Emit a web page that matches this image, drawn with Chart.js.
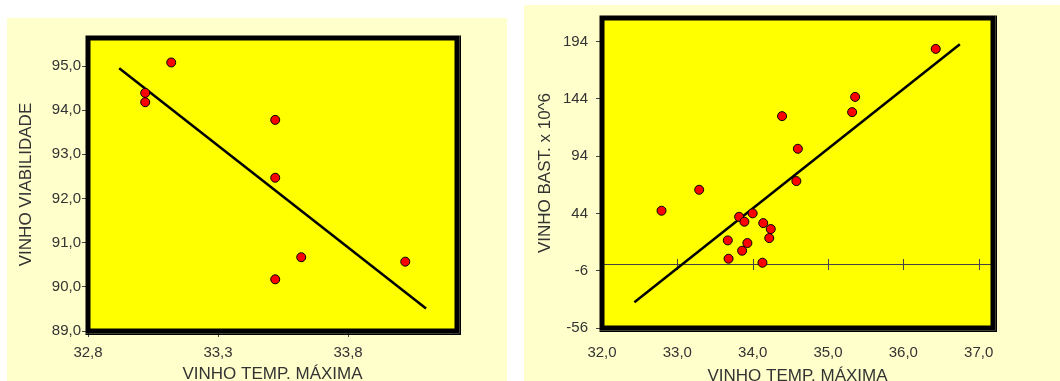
<!DOCTYPE html>
<html lang="pt">
<head>
<meta charset="UTF-8">
<title>Vinho - dispersão</title>
<script src="https://cdn.jsdelivr.net/npm/chart.js"></script>
<style>
    html, body { margin: 0; padding: 0; background: #ffffff; overflow: hidden; }
    .panel { position: absolute; background: #FFFFCC; overflow: hidden; }
    #leftPanel { left: 7px; top: 18px; width: 500px; height: 363px; }
    #rightPanel { left: 524px; top: 5px; width: 536px; height: 376px; }
    canvas { position: absolute; left: 0; top: 0; }
</style>
</head>
<body>
<div class="panel" id="leftPanel"><canvas id="viabChart" width="500" height="370" style="width:500px;height:370px"></canvas></div>
<div class="panel" id="rightPanel"><canvas id="bastChart" width="536" height="383" style="width:536px;height:383px"></canvas></div>

<script>
// left chart: temperatura máxima x viabilidade
const viabTemp = [33.12, 33.02, 33.02, 33.52, 33.52, 33.62, 33.52, 34.02];
const viabValues = [95.08, 94.39, 94.18, 93.78, 92.47, 90.67, 90.17, 90.57];
const viabFitX = [32.92, 34.10];
const viabFitY = [94.95, 89.51];
const viabXTicks = [32.8, 33.3, 33.8];
const viabYTicks = [89, 90, 91, 92, 93, 94, 95];

// right chart: temperatura máxima x bastonetes
const bastTemp = [36.43, 35.36, 35.32, 34.39, 34.60, 34.58, 33.29, 32.79, 34.00, 33.82,
                  33.89, 34.14, 34.24, 34.22, 33.67, 33.93, 33.86, 33.68, 34.13];
const bastValues = [187.7, 145.8, 132.5, 129.0, 100.5, 72.3, 64.7, 46.4, 44.1, 41.1,
                    36.8, 35.6, 30.4, 22.5, 20.5, 18.2, 11.5, 4.5, 1.0];
const bastFitX = [32.43, 36.75];
const bastFitY = [-33.6, 191.8];
const bastXTicks = [32, 33, 34, 35, 36, 37];
const bastYTicks = [-56, -6, 44, 94, 144, 194];
const bastZeroTicks = [33, 34, 35, 36, 37];

const textColor = '#333333';
const tickFont = { family: 'Arial, "Liberation Sans", sans-serif', size: 15 };
const titleFont = { family: 'Arial, "Liberation Sans", sans-serif', size: 17 };

const comma = v => v.toFixed(1).replace('.', ',');

// yellow plot background + thick black frame
const framePlugin = {
    id: 'frame',
    beforeDraw(chart) {
        const { ctx, chartArea: { left, top, right, bottom } } = chart;
        ctx.save();
        ctx.fillStyle = '#FFFF00';
        ctx.fillRect(left, top, right - left, bottom - top);
        ctx.restore();
    },
    afterDraw(chart) {
        const { ctx, chartArea: { left, top, right, bottom } } = chart;
        ctx.save();
        ctx.strokeStyle = '#000';
        ctx.lineWidth = 5;
        ctx.strokeRect(left, top, right - left, bottom - top);
        ctx.fillStyle = '#000';
        ctx.fillRect(right + 2.5, top - 2.5, 1.5, bottom - top + 6.5);
        ctx.fillRect(left - 2.5, bottom + 2.5, right - left + 6.5, 1.5);
        ctx.restore();
    }
};

// horizontal line at y = 0 with its own tick marks (right chart)
const zeroLinePlugin = {
    id: 'zeroLine',
    beforeDatasetsDraw(chart) {
        const { ctx, chartArea: { left, right }, scales: { x, y } } = chart;
        const y0 = Math.round(y.getPixelForValue(0)) + 0.5;
        ctx.save();
        ctx.strokeStyle = '#444';
        ctx.lineWidth = 1;
        ctx.beginPath();
        ctx.moveTo(left, y0);
        ctx.lineTo(right, y0);
        bastZeroTicks.forEach(t => {
            const px = Math.round(x.getPixelForValue(t)) + 0.5;
            ctx.moveTo(px, y0 - 5.5);
            ctx.lineTo(px, y0 + 5.5);
        });
        ctx.stroke();
        ctx.restore();
    }
};

function makeChart(id, cfg) {
    const pts = cfg.xs.map((x, i) => ({ x: x, y: cfg.ys[i] }));
    const fit = cfg.fitX.map((x, i) => ({ x: x, y: cfg.fitY[i] }));
    return new Chart(document.getElementById(id), {
        type: 'scatter',
        data: {
            datasets: [
                {
                    data: pts,
                    pointRadius: 4.5,
                    pointBackgroundColor: '#FF0000',
                    pointBorderColor: '#000000',
                    pointBorderWidth: 1
                },
                {
                    type: 'line',
                    data: fit,
                    borderColor: '#000000',
                    borderWidth: 2.5,
                    pointRadius: 0,
                    fill: false
                }
            ]
        },
        options: {
            responsive: false,
            animation: false,
            layout: { padding: cfg.padding },
            plugins: { legend: { display: false }, tooltip: { enabled: false } },
            scales: {
                x: {
                    type: 'linear',
                    min: cfg.xMin,
                    max: cfg.xMax,
                    border: { display: false },
                    grid: { drawOnChartArea: false, drawTicks: cfg.xDrawTicks, tickLength: 6, color: '#444' },
                    afterBuildTicks: s => { s.ticks = cfg.xTicks.map(v => ({ value: v })); },
                    afterFit: s => { s.height = cfg.xHeight; s.paddingLeft = 0; s.paddingRight = 0; },
                    ticks: { color: textColor, font: tickFont, padding: cfg.xPad, maxRotation: 0, callback: v => comma(v) },
                    title: { display: true, text: 'VINHO TEMP. MÁXIMA', color: textColor, font: titleFont, padding: { top: 0, bottom: cfg.xTitlePad } }
                },
                y: {
                    type: 'linear',
                    min: cfg.yMin,
                    max: cfg.yMax,
                    border: { display: false },
                    grid: { drawOnChartArea: false, drawTicks: true, tickLength: 6, color: '#444' },
                    afterBuildTicks: s => { s.ticks = cfg.yTicks.map(v => ({ value: v })); },
                    afterFit: s => { s.width = cfg.yWidth; s.paddingTop = 0; s.paddingBottom = 0; },
                    ticks: { color: textColor, font: tickFont, padding: cfg.yPad, callback: cfg.yFormat },
                    title: { display: true, text: cfg.yTitle, color: textColor, font: titleFont, padding: { top: cfg.yTitlePad, bottom: 0 } }
                }
            }
        },
        plugins: cfg.extraPlugins
    });
}

makeChart('viabChart', {
    xs: viabTemp, ys: viabValues, fitX: viabFitX, fitY: viabFitY,
    xTicks: viabXTicks, yTicks: viabYTicks,
    xMin: 32.8, xMax: 34.219, yMin: 89, yMax: 95.634,
    padding: { top: 20, right: 50, left: 0, bottom: 0 },
    xHeight: 57, yWidth: 81,
    xDrawTicks: true, xPad: 7, yPad: 1,
    xTitlePad: 3, yTitlePad: 9,
    yTitle: 'VINHO VIABILIDADE',
    yFormat: v => comma(v),
    extraPlugins: [framePlugin]
});

makeChart('bastChart', {
    xs: bastTemp, ys: bastValues, fitX: bastFitX, fitY: bastFitY,
    xTicks: bastXTicks, yTicks: bastYTicks,
    xMin: 32.0, xMax: 37.19, yMin: -56, yMax: 214.7,
    padding: { top: 13, right: 67, left: 0, bottom: 0 },
    xHeight: 60, yWidth: 78,
    xDrawTicks: false, xPad: 16, yPad: 8,
    xTitlePad: 1, yTitlePad: 11,
    yTitle: 'VINHO BAST. x 10^6',
    yFormat: v => String(v),
    extraPlugins: [framePlugin, zeroLinePlugin]
});
</script>
</body>
</html>
